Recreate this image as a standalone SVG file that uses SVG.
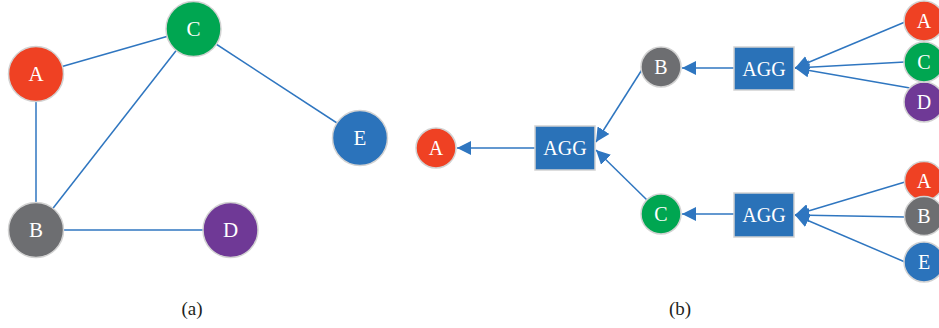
<svg xmlns="http://www.w3.org/2000/svg" width="939" height="328" viewBox="0 0 939 328">
  <style>
    .edge { stroke: #2f76c0; stroke-width: 1.5; fill: none; }
    .node { stroke: #d2d2d2; stroke-width: 1.5; }
    .lbl { font-family: "Liberation Serif", "Times New Roman", serif; fill: #ffffff; text-anchor: middle; dominant-baseline: central; }
    .big { font-size: 21px; }
    .small { font-size: 20px; }
    .cap { font-family: "Liberation Serif", "Times New Roman", serif; font-size: 19px; fill: #231f20; text-anchor: middle; }
    .red { fill: #ef4123; }
    .green { fill: #00a651; }
    .gray { fill: #6d6e71; }
    .purple { fill: #6f3996; }
    .blue { fill: #2b73bb; }
    .agg { fill: #2a72b8; stroke: #d2d2d2; stroke-width: 1.5; }
  </style>
  <defs>
    <marker id="arrow" markerUnits="userSpaceOnUse" markerWidth="14" markerHeight="14" viewBox="0 0 14 14" refX="14" refY="7" orient="auto">
      <path d="M0,0 L14,7 L0,14 Z" fill="#2f76c0"/>
    </marker>
  </defs>

  <!-- (a) undirected graph -->
  <g id="edges-a">
    <line class="edge" x1="36" y1="74" x2="193" y2="29"/>
    <line class="edge" x1="36" y1="74" x2="36" y2="230"/>
    <line class="edge" x1="193" y1="29" x2="36" y2="230"/>
    <line class="edge" x1="193" y1="29" x2="360" y2="138"/>
    <line class="edge" x1="36" y1="230" x2="230" y2="230"/>
  </g>
  <g id="a-A"><circle class="node red" cx="36" cy="74" r="27.5"/><text class="lbl big" x="36" y="74">A</text></g>
  <g id="a-C"><circle class="node green" cx="193.5" cy="29" r="27.5"/><text class="lbl big" x="193.5" y="29">C</text></g>
  <g id="a-B"><circle class="node gray" cx="36" cy="230" r="27.5"/><text class="lbl big" x="36" y="230">B</text></g>
  <g id="a-D"><circle class="node purple" cx="230.5" cy="230" r="27.5"/><text class="lbl big" x="230.5" y="230">D</text></g>
  <g id="a-E"><circle class="node blue" cx="360" cy="138" r="27.5"/><text class="lbl big" x="360" y="138">E</text></g>

  <!-- (b) aggregation tree -->
  <g id="edges-b">
    <line class="edge" x1="535" y1="148" x2="457" y2="148" marker-end="url(#arrow)"/>
    <line class="edge" x1="643" y1="68" x2="596" y2="142" marker-end="url(#arrow)"/>
    <line class="edge" x1="647" y1="200" x2="596" y2="150" marker-end="url(#arrow)"/>
    <line class="edge" x1="734" y1="68" x2="682" y2="68" marker-end="url(#arrow)"/>
    <line class="edge" x1="734" y1="214" x2="682" y2="214" marker-end="url(#arrow)"/>
    <line class="edge" x1="905" y1="22" x2="795" y2="68" marker-end="url(#arrow)"/>
    <line class="edge" x1="905" y1="62" x2="795" y2="68" marker-end="url(#arrow)"/>
    <line class="edge" x1="910" y1="88" x2="795" y2="68" marker-end="url(#arrow)"/>
    <line class="edge" x1="905" y1="182" x2="795" y2="215" marker-end="url(#arrow)"/>
    <line class="edge" x1="905" y1="217" x2="795" y2="215" marker-end="url(#arrow)"/>
    <line class="edge" x1="905" y1="262" x2="795" y2="215" marker-end="url(#arrow)"/>
  </g>
  <g id="b-A"><circle class="node red" cx="436" cy="148" r="20"/><text class="lbl small" x="436" y="148">A</text></g>
  <g id="b-agg-root"><rect class="agg" x="535" y="126" width="60" height="44"/><text class="lbl small" x="565" y="148">AGG</text></g>
  <g id="b-B"><circle class="node gray" cx="661" cy="67" r="20"/><text class="lbl small" x="661" y="67">B</text></g>
  <g id="b-C"><circle class="node green" cx="661" cy="214" r="20"/><text class="lbl small" x="661" y="214">C</text></g>
  <g id="b-agg-top"><rect class="agg" x="734" y="47" width="60" height="43"/><text class="lbl small" x="764" y="68.5">AGG</text></g>
  <g id="b-agg-bottom"><rect class="agg" x="734" y="193" width="60" height="44"/><text class="lbl small" x="764" y="215">AGG</text></g>
  <g id="b-top-A"><circle class="node red" cx="924" cy="21" r="20"/><text class="lbl small" x="924" y="21">A</text></g>
  <g id="b-top-D"><circle class="node purple" cx="924" cy="102" r="20"/><text class="lbl small" x="924" y="102">D</text></g>
  <g id="b-top-C"><circle class="node green" cx="924" cy="62" r="20"/><text class="lbl small" x="924" y="62">C</text></g>
  <g id="b-bot-A"><circle class="node red" cx="924" cy="181" r="19.5"/><text class="lbl small" x="924" y="181">A</text></g>
  <g id="b-bot-B"><circle class="node gray" cx="924" cy="216" r="19.5"/><text class="lbl small" x="924" y="216">B</text></g>
  <g id="b-bot-E"><circle class="node blue" cx="924" cy="262" r="20"/><text class="lbl small" x="924" y="262">E</text></g>

  <!-- sub-figure captions -->
  <text class="cap" x="192" y="315">(a)</text>
  <text class="cap" x="680" y="315">(b)</text>
</svg>
